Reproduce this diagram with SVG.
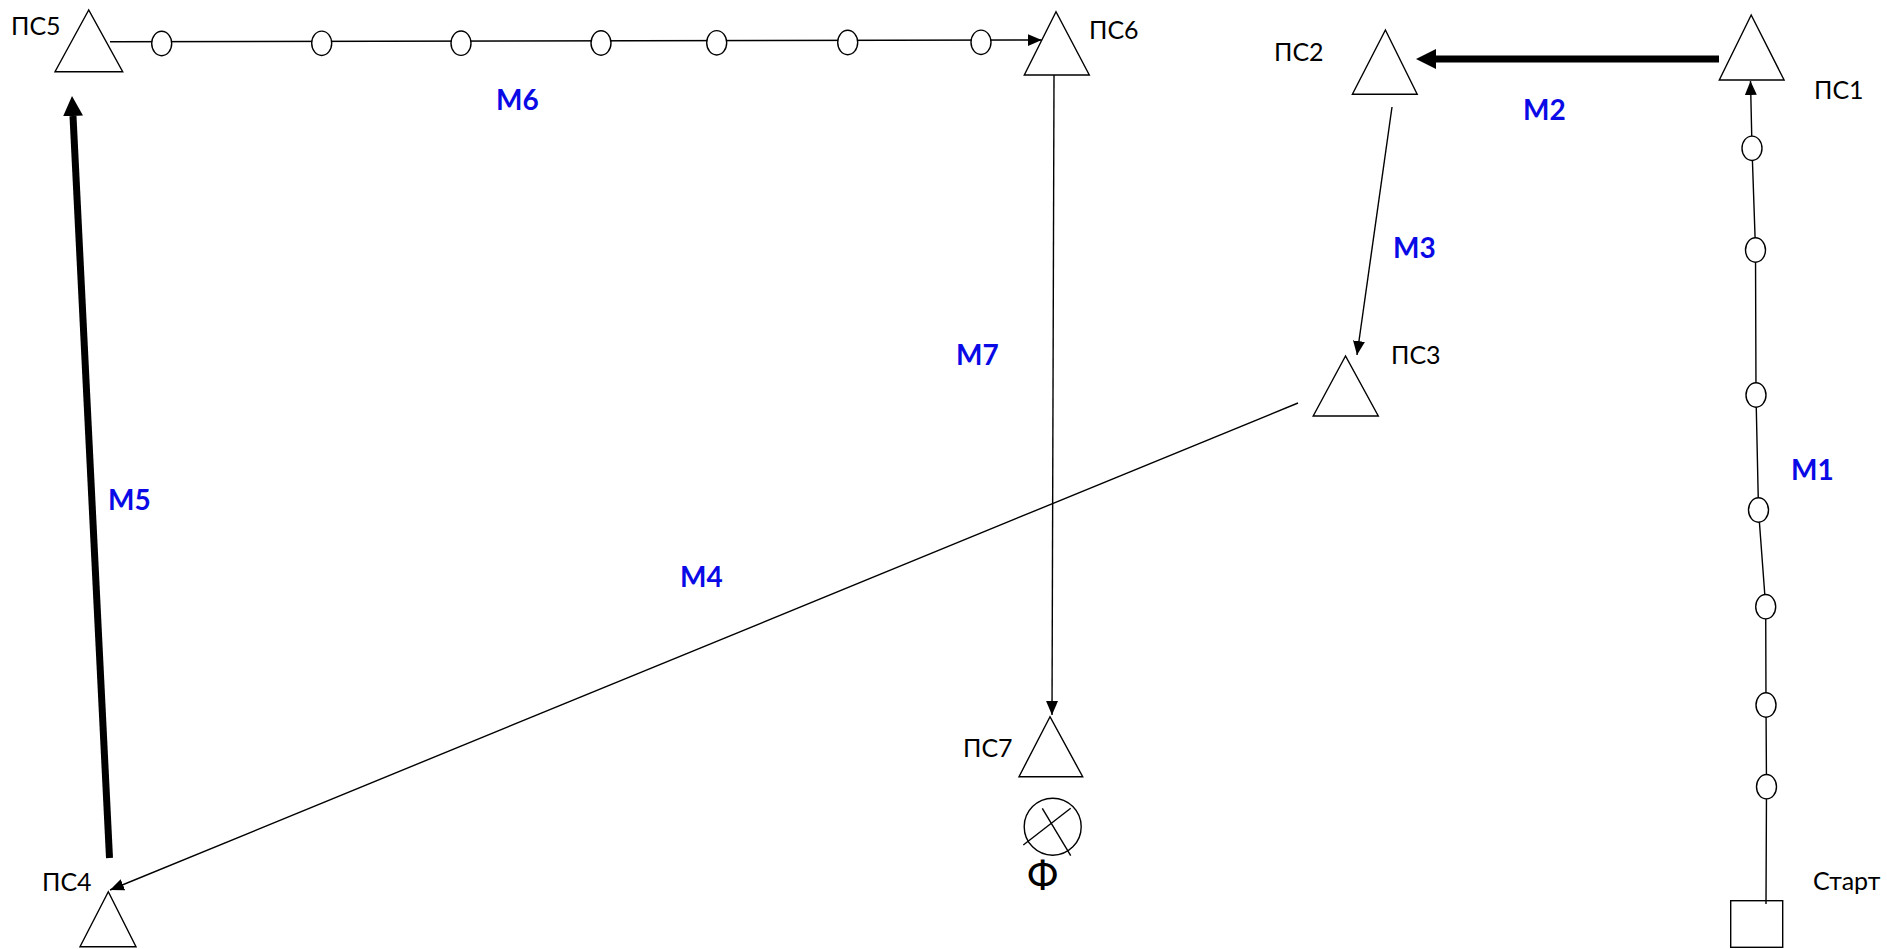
<svg xmlns="http://www.w3.org/2000/svg" width="1887" height="949" viewBox="0 0 1887 949">
<style>
.tri{fill:none;stroke:#000;stroke-width:1.4;stroke-linejoin:miter}
.thin{fill:none;stroke:#000;stroke-width:1.4}
.thick{fill:none;stroke:#000;stroke-width:7}
.node{fill:#fff;stroke:#000;stroke-width:1.4}
.t{font-family:Lato,"Liberation Sans",sans-serif;font-size:25px;fill:#000}
.lbl{font-family:Lato,"Liberation Sans",sans-serif;font-size:28px;font-weight:bold;fill:#0a0ae6}
</style>
<defs>
<marker id="arr" viewBox="0 0 14 12" refX="14" refY="6" markerWidth="14" markerHeight="12" markerUnits="userSpaceOnUse" orient="auto"><path d="M0,0 L14,6 L0,12 z" fill="#000"/></marker>
<marker id="arrB" viewBox="0 0 20 20" refX="0" refY="10" markerWidth="20" markerHeight="20" markerUnits="userSpaceOnUse" orient="auto"><path d="M0,0 L20,10 L0,20 z" fill="#000"/></marker>
</defs>
<g id="connectors">
<g id="M1">
<polyline class="thin" points="1766,904 1766.5,786.7 1766,705 1765.7,606.7 1758.5,510 1756,395 1755.5,250 1752,148.3 1750.5,81" marker-end="url(#arr)"/>
<ellipse class="node" cx="1766.5" cy="786.7" rx="10" ry="12.2"/>
<ellipse class="node" cx="1766" cy="705" rx="10" ry="12.2"/>
<ellipse class="node" cx="1765.7" cy="606.7" rx="10" ry="12.2"/>
<ellipse class="node" cx="1758.5" cy="510" rx="10" ry="12.2"/>
<ellipse class="node" cx="1756" cy="395" rx="10" ry="12.2"/>
<ellipse class="node" cx="1755.5" cy="250" rx="10" ry="12.2"/>
<ellipse class="node" cx="1752" cy="148.3" rx="10" ry="12.2"/>
</g>
<line id="M2" class="thick" x1="1719" y1="59" x2="1436" y2="59" marker-end="url(#arrB)"/>
<line id="M3" class="thin" x1="1392" y1="107" x2="1357" y2="355" marker-end="url(#arr)"/>
<line id="M4" class="thin" x1="1298" y1="403" x2="110" y2="890" marker-end="url(#arr)"/>
<line id="M5" class="thick" x1="109.5" y1="858" x2="73" y2="116" marker-end="url(#arrB)"/>
<g id="M6">
<line class="thin" x1="110" y1="41.7" x2="1041.7" y2="40" marker-end="url(#arr)"/>
<ellipse class="node" cx="161.7" cy="43.5" rx="10" ry="12.2"/>
<ellipse class="node" cx="321.7" cy="43.3" rx="10" ry="12.2"/>
<ellipse class="node" cx="461" cy="43.2" rx="10" ry="12.2"/>
<ellipse class="node" cx="601" cy="43" rx="10" ry="12.2"/>
<ellipse class="node" cx="716.7" cy="42.8" rx="10" ry="12.2"/>
<ellipse class="node" cx="847.7" cy="42.5" rx="10" ry="12.2"/>
<ellipse class="node" cx="981" cy="42.3" rx="10" ry="12.2"/>
</g>
<line id="M7" class="thin" x1="1054" y1="75" x2="1052" y2="715" marker-end="url(#arr)"/>
</g>
<g id="PS1"><polygon class="tri" points="1751.2,15 1719.3,80 1784.1,80"/><text class="t" x="1814" y="99">ПС1</text></g>
<g id="PS2"><polygon class="tri" points="1385.4,30 1352.4,94.3 1417.2,94.3"/><text class="t" x="1274" y="61">ПС2</text></g>
<g id="PS3"><polygon class="tri" points="1345.5,356 1313.2,416 1378.3,416"/><text class="t" x="1391" y="364">ПС3</text></g>
<g id="PS4"><polygon class="tri" points="108.3,891.7 80,946.7 136,946.7"/><text class="t" x="42" y="891">ПС4</text></g>
<g id="PS5"><polygon class="tri" points="88.7,10 55,71.7 122.7,71.7"/><text class="t" x="11" y="35">ПС5</text></g>
<g id="PS6"><polygon class="tri" points="1056,11.7 1024.3,75 1089.3,75"/><text class="t" x="1089" y="39">ПС6</text></g>
<g id="PS7"><polygon class="tri" points="1050,716.7 1019,776.7 1082.7,776.7"/><text class="t" x="963" y="757">ПС7</text></g>
<g id="start"><rect class="tri" x="1730.7" y="900.7" width="52" height="46.6"/><text class="t" x="1813" y="890">Старт</text></g>
<g id="F">
<circle class="tri" cx="1052.7" cy="826.7" r="28.5"/>
<line class="thin" x1="1023.3" y1="845" x2="1070.7" y2="808.3"/>
<line class="thin" x1="1042.3" y1="808.3" x2="1070.7" y2="855.7"/>
<text class="t" x="1027" y="890" style="font-size:40px">Ф</text>
</g>
<g id="labels">
<text class="lbl" x="1791" y="480">М1</text>
<text class="lbl" x="1523" y="120">М2</text>
<text class="lbl" x="1393" y="257.6">М3</text>
<text class="lbl" x="680" y="587">М4</text>
<text class="lbl" x="108" y="510">М5</text>
<text class="lbl" x="496" y="110">М6</text>
<text class="lbl" x="956" y="365">М7</text>
</g>
</svg>
